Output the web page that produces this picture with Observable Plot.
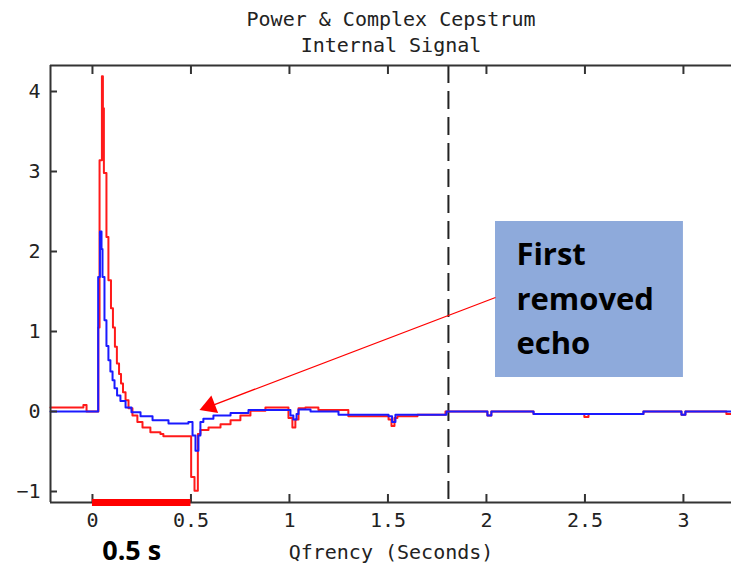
<!DOCTYPE html>
<html>
<head>
<meta charset="utf-8">
<script src="https://cdn.jsdelivr.net/npm/d3@7"></script>
<script src="https://cdn.jsdelivr.net/npm/@observablehq/plot@0.6"></script>
<style>
  html, body { margin: 0; padding: 0; background: #fff; }
  #chart { width: 731px; height: 567px; overflow: hidden; }
</style>
</head>
<body>
<div id="chart"></div>
<script>
// Quefrency (seconds) and cepstrum values (step samples)
const qRed = [-0.213,-0.046,-0.030,0.030,0.036,0.048,0.053,0.058,0.071,0.081,0.094,0.104,0.114,0.124,0.135,0.145,0.155,0.168,0.183,0.203,0.228,0.254,0.294,0.345,0.360,0.501,0.518,0.535,0.548,0.589,0.650,0.701,0.751,0.802,0.878,0.995,1.015,1.030,1.046,1.081,1.147,1.299,1.503,1.518,1.533,1.548,1.650,1.792,2.005,2.025,2.239,2.497,2.518,2.797,2.990,3.010,3.218,3.244];
const vRed = [0.05,0.08,0.0,1.05,3.14,4.19,3.79,2.98,2.18,1.64,1.29,1.05,0.81,0.60,0.47,0.35,0.24,0.14,0.04,-0.05,-0.13,-0.20,-0.26,-0.28,-0.31,-0.82,-0.99,-0.28,-0.23,-0.20,-0.16,-0.11,-0.05,0.01,0.05,-0.08,-0.20,-0.10,0.04,0.05,0.02,-0.06,-0.10,-0.18,-0.08,-0.06,-0.04,0.0,-0.05,0.0,-0.03,-0.07,-0.03,0.0,-0.04,0.0,-0.03,-0.03];
const qBlue = [-0.213,0.029,0.038,0.046,0.051,0.061,0.071,0.081,0.091,0.102,0.112,0.125,0.142,0.168,0.198,0.244,0.305,0.386,0.487,0.508,0.523,0.538,0.548,0.563,0.614,0.701,0.792,1.005,1.020,1.036,1.046,1.107,1.249,1.503,1.521,1.538,1.797,2.005,2.025,2.239,2.797,2.990,3.010,3.244];
const vBlue = [0,1.68,2.25,2.03,1.68,1.14,0.82,0.64,0.50,0.39,0.29,0.20,0.13,0.05,-0.01,-0.06,-0.11,-0.15,-0.13,-0.30,-0.49,-0.30,-0.13,-0.09,-0.05,-0.02,0.02,-0.05,-0.10,-0.03,0.025,0.0,-0.04,-0.06,-0.13,-0.04,0.0,-0.05,0.0,-0.03,0.0,-0.04,0.0,0.0];

const xDomain = [-0.213, 3.244];
const yDomain = [-1.1375, 4.325];
const xTicks = [0, 0.5, 1, 1.5, 2, 2.5, 3];
const yTicks = [-1, 0, 1, 2, 3, 4];
const cutoff = [1.807];               // dashed liftering cutoff
const bracket = [{x1: 0, x2: 0.5}];   // "0.5 s" bracket
const titleLines = ["Power & Complex Cepstrum", "Internal Signal"];
const xLabel = "Qfrency (Seconds)";
const bracketLabel = "0.5 s";
const noteText = "First\nremoved\necho";
const noteBox = [{x1: 2.046, x2: 3.0, y1: 0.425, y2: 2.375}];
const arrow = [{x1: 2.046, y1: 1.425, x2: 0.560, y2: 0.030}];
const arrowHead = [{x: 0.595, y: 0.066}];

const red = qRed.map((q, i) => ({q, v: vRed[i]}));
const blue = qBlue.map((q, i) => ({q, v: vBlue[i]}));

const frameColor = "#333";
const mono = "DejaVu Sans Mono";
const blank = () => "";
const fmt = d => (d < 0 ? "\u2212" + Math.abs(d) : String(d));

const chart = Plot.plot({
  width: 731,
  height: 567,
  marginLeft: 50,
  marginRight: 0,
  marginTop: 65,
  marginBottom: 65,
  style: {fontFamily: mono, fontSize: "20px", background: "#fff", color: "#222"},
  x: {domain: xDomain},
  y: {domain: yDomain},
  marks: [
    // dashed cutoff
    Plot.ruleX(cutoff, {stroke: "#222", strokeWidth: 2, strokeDasharray: "18,8"}),
    // series
    Plot.line(red, {x: "q", y: "v", curve: "step-after", stroke: "#ff1a1a", strokeWidth: 2}),
    Plot.line(blue, {x: "q", y: "v", curve: "step-after", stroke: "#1a1aff", strokeWidth: 2}),
    // frame
    Plot.ruleY([yDomain[0], yDomain[1]], {stroke: frameColor, strokeWidth: 2}),
    Plot.ruleX([xDomain[0]], {stroke: frameColor, strokeWidth: 2}),
    // axes (inward ticks)
    Plot.axisX({anchor: "bottom", ticks: xTicks, tickSize: 8, dy: -8, tickFormat: blank, label: null, stroke: frameColor, strokeWidth: 2}),
    Plot.axisX({anchor: "top", ticks: xTicks, tickSize: 8, dy: 8, tickFormat: blank, label: null, stroke: frameColor, strokeWidth: 2}),
    Plot.axisX({anchor: "bottom", ticks: xTicks, tickSize: 0, tickPadding: 10, tickFormat: fmt, label: null, fontSize: 20, fill: "#222"}),
    Plot.axisY({anchor: "left", ticks: yTicks, tickSize: 7, dx: 7, tickFormat: blank, label: null, stroke: frameColor, strokeWidth: 2}),
    Plot.axisY({anchor: "left", ticks: yTicks, tickSize: 0, tickPadding: 10, tickFormat: fmt, label: null, fontSize: 20, fill: "#222"}),
    // titles and axis label
    Plot.text([titleLines[0]], {frameAnchor: "top", lineAnchor: "middle", dy: -46, fontSize: 20, fill: "#222"}),
    Plot.text([titleLines[1]], {frameAnchor: "top", lineAnchor: "middle", dy: -20, fontSize: 20, fill: "#222"}),
    Plot.text([xLabel], {frameAnchor: "bottom", lineAnchor: "middle", dy: 50, fontSize: 20, fill: "#222"}),
    // red bracket and its label
    Plot.ruleY(bracket, {x1: "x1", x2: "x2", y: () => yDomain[0], stroke: "#ff0000", strokeWidth: 7}),
    Plot.text(bracket, {x: d => (d.x1 + d.x2) / 2, frameAnchor: "bottom", lineAnchor: "middle", dy: 49, dx: -10,
      text: () => bracketLabel, fontFamily: "Open Sans", fontWeight: "bold", fontSize: 27, fill: "#000"}),
    // annotation box
    Plot.rect(noteBox, {x1: "x1", x2: "x2", y1: "y1", y2: "y2", fill: "#8eaadb"}),
    Plot.text([noteText], {x: 2.152, y: 2.225, textAnchor: "start", lineAnchor: "top", lineHeight: 1.44,
      fontFamily: "Open Sans", fontWeight: "bold", fontSize: 31, fill: "#000"}),
    // arrow
    Plot.link(arrow, {x1: "x1", y1: "y1", x2: "x2", y2: "y2", stroke: "#ff0000", strokeWidth: 1.3}),
    Plot.dot(arrowHead, {x: "x", y: "y", symbol: "triangle", r: 7, rotate: 249, fill: "#ff0000", stroke: "none"})
  ]
});
document.getElementById("chart").appendChild(chart);
</script>
</body>
</html>
